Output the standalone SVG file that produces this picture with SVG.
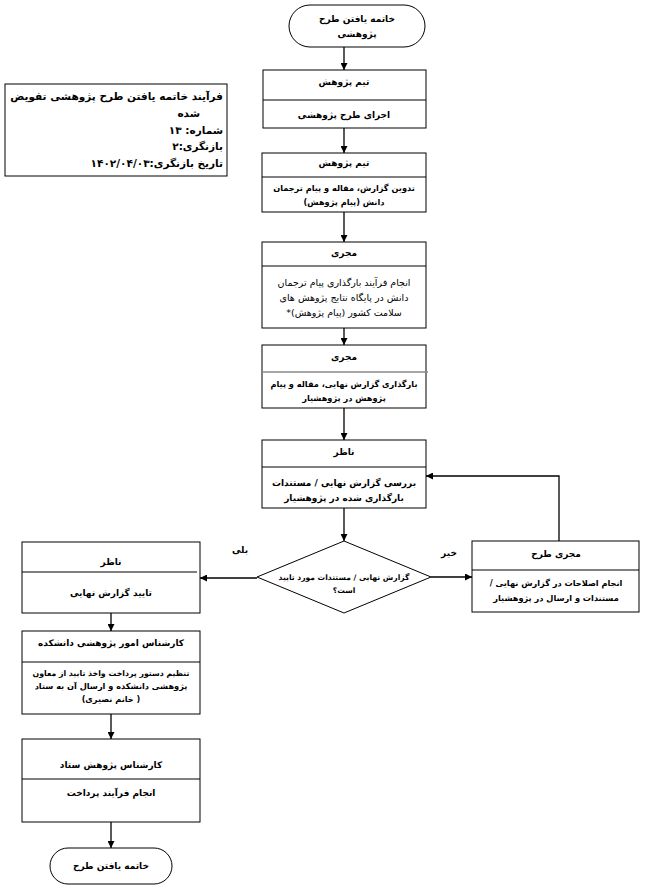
<svg xmlns="http://www.w3.org/2000/svg" width="646" height="887" viewBox="0 0 646 887">
<defs>
<marker id="arr" viewBox="0 0 10 10" refX="10" refY="5" markerWidth="7" markerHeight="7" orient="auto" markerUnits="userSpaceOnUse">
<path d="M0,0 L10,5 L0,10 z" fill="#000"/>
</marker>
</defs>
<style>
.b{fill:#fff;stroke:#000;stroke-width:1}
.d{stroke:#000;stroke-width:1}
.t{font-family:"DejaVu Sans","Liberation Sans",sans-serif;font-size:9px;font-weight:bold;text-anchor:middle;direction:rtl;fill:#000}
.s{font-size:8.2px}
.r{font-weight:normal;font-size:9.5px}
.c{fill:none;stroke:#000;stroke-width:1.3}
.info{font-family:"DejaVu Sans","Liberation Sans",sans-serif;font-size:10.5px;font-weight:bold;direction:rtl;text-anchor:start;fill:#000}
</style>
<rect width="646" height="887" fill="#fff"/>
<g id="info">
<rect class="b" x="5" y="84" width="222" height="92"/>
<text class="info" x="223" y="100">فرآیند خاتمه یافتن طرح پژوهشی تفویض</text>
<text class="info" x="200" y="117">شده</text>
<text class="info" x="223" y="134">شماره: ۱۳</text>
<text class="info" x="223" y="150">بازنگری:۲</text>
<text class="info" x="223" y="167">تاریخ بازنگری:۱۴۰۲/۰۴/۰۳</text>
</g>
<g id="start">
<rect class="b" x="289" y="5" width="136" height="42" rx="21" ry="21"/>
<text class="t" x="357" y="22">خاتمه یافتن طرح</text>
<text class="t" x="357" y="37">پژوهشی</text>
</g>
<g id="n1">
<rect class="b" x="263" y="70" width="163" height="58"/>
<line class="d" x1="263" y1="100" x2="426" y2="100"/>
<text class="t" x="344" y="85">تیم پژوهش</text>
<text class="t" x="344" y="118">اجرای طرح پژوهشی</text>
</g>
<g id="n2">
<rect class="b" x="262" y="153" width="164" height="59"/>
<line class="d" x1="262" y1="177" x2="426" y2="177"/>
<text class="t" x="344" y="166">تیم پژوهش</text>
<text class="t s" x="344" y="191">تدوین گزارش، مقاله و پیام ترجمان</text>
<text class="t s" x="344" y="205">دانش (پیام پژوهش)</text>
</g>
<g id="n3">
<rect class="b" x="262" y="242" width="164" height="86"/>
<line class="d" x1="262" y1="266" x2="426" y2="266"/>
<text class="t" x="344" y="256">مجری</text>
<text class="t r" x="344" y="286">انجام فرآیند بارگذاری پیام ترجمان</text>
<text class="t r" x="344" y="301">دانش در پایگاه نتایج پژوهش های</text>
<text class="t r" x="344" y="316">سلامت کشور (پیام پژوهش)*</text>
</g>
<g id="n4">
<rect class="b" x="262" y="345" width="164" height="63"/>
<line x1="262" y1="372" x2="428" y2="372" stroke="#888" stroke-width="1.5"/>
<text class="t" x="344" y="360">مجری</text>
<text class="t s" x="344" y="387">بارگذاری گزارش نهایی، مقاله و پیام</text>
<text class="t s" x="344" y="401">پژوهش در پژوهشیار</text>
</g>
<g id="n5">
<rect class="b" x="262" y="440" width="164" height="68"/>
<line class="d" x1="262" y1="467" x2="426" y2="467"/>
<text class="t" x="344" y="455">ناظر</text>
<text class="t" x="344" y="486">بررسی گزارش  نهایی / مستندات</text>
<text class="t" x="344" y="501">بارگذاری شده در پژوهشیار</text>
</g>
<g id="decision">
<polygon class="b" points="344,541 431,577 344,613 257,577"/>
<text class="t" x="344" y="580" style="font-size:7.6px">گزارش نهایی / مستندات مورد تایید</text>
<text class="t" x="344" y="593" style="font-size:7.6px">است؟</text>
</g>
<g id="fix">
<rect class="b" x="472" y="541" width="167" height="71"/>
<line class="d" x1="472" y1="570" x2="639" y2="570"/>
<text class="t" x="556" y="557">مجری طرح</text>
<text class="t s" x="556" y="586">انجام اصلاحات در گزارش نهایی /</text>
<text class="t s" x="556" y="601">مستندات و ارسال در پژوهشیار</text>
</g>
<g id="approve">
<rect class="b" x="22" y="542" width="178" height="71"/>
<line class="d" x1="22" y1="572" x2="197" y2="572"/>
<text class="t" x="111" y="565">ناظر</text>
<text class="t" x="111" y="596">تایید گزارش نهایی</text>
</g>
<g id="faculty">
<rect class="b" x="22" y="631" width="178" height="83"/>
<line class="d" x1="22" y1="662" x2="200" y2="662"/>
<text class="t" x="111" y="646">کارشناس امور پژوهشی دانشکده</text>
<text class="t s" x="111" y="676" style="font-size:7.8px">تنظیم دستور پرداخت واخذ تایید از معاون</text>
<text class="t s" x="111" y="689">پژوهشی دانشکده و ارسال آن به ستاد</text>
<text class="t s" x="111" y="702">( خانم نصیری)</text>
</g>
<g id="hq">
<rect class="b" x="22" y="739" width="178" height="83"/>
<line class="d" x1="22" y1="779" x2="200" y2="779"/>
<text class="t" x="111" y="768">کارشناس پژوهش ستاد</text>
<text class="t" x="111" y="796">انجام فرآیند پرداخت</text>
</g>
<g id="end">
<rect class="b" x="50" y="848" width="122" height="36" rx="18" ry="18"/>
<text class="t" x="111" y="869">خاتمه یافتن طرح</text>
</g>
<g id="connectors">
<line class="c" x1="344" y1="47" x2="344" y2="70" marker-end="url(#arr)"/>
<line class="c" x1="344" y1="128" x2="344" y2="153" marker-end="url(#arr)"/>
<line class="c" x1="344" y1="212" x2="344" y2="242" marker-end="url(#arr)"/>
<line class="c" x1="344" y1="328" x2="344" y2="345" marker-end="url(#arr)"/>
<line class="c" x1="344" y1="408" x2="344" y2="440" marker-end="url(#arr)"/>
<line class="c" x1="344" y1="508" x2="344" y2="541" marker-end="url(#arr)"/>
<line class="c" x1="257" y1="578" x2="200" y2="578" marker-end="url(#arr)"/>
<line class="c" x1="431" y1="577" x2="472" y2="577" marker-end="url(#arr)"/>
<polyline class="c" points="559,541 559,476 426,476" marker-end="url(#arr)"/>
<line class="c" x1="111" y1="613" x2="111" y2="631" marker-end="url(#arr)"/>
<line class="c" x1="111" y1="714" x2="111" y2="739" marker-end="url(#arr)"/>
<line class="c" x1="111" y1="822" x2="111" y2="848" marker-end="url(#arr)"/>
<text class="t" x="240" y="553">بلی</text>
<text class="t" x="449" y="556">خیر</text>
</g>
</svg>
